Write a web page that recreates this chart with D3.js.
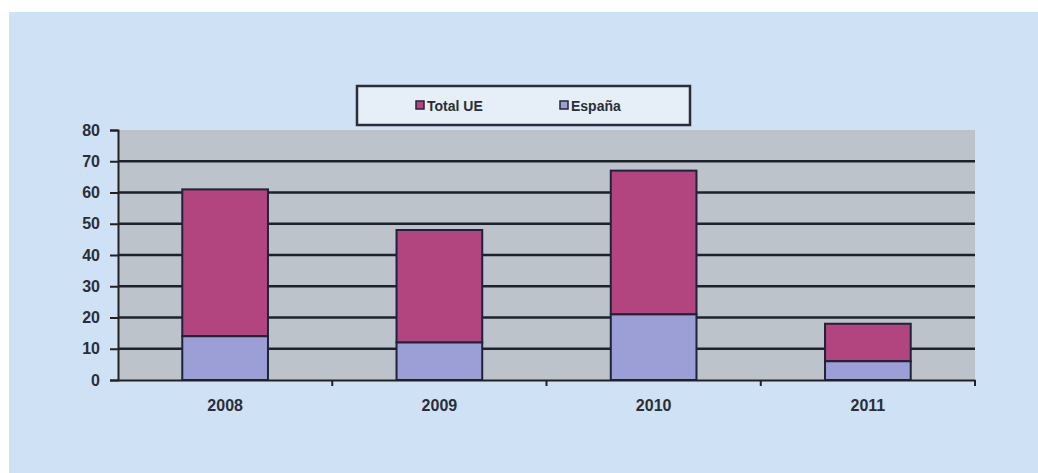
<!DOCTYPE html>
<html><head><meta charset="utf-8">
<script src="https://cdn.jsdelivr.net/npm/d3@7"></script>
<style>body{margin:0;background:#fff}svg{display:block}</style>
</head><body>
<svg id="c" width="1038" height="473"></svg>
<script>
const categories = ["2008", "2009", "2010", "2011"];
const totalUE = [61, 48, 67, 18];
const espana = [14, 12, 21, 6];
const yTicks = [0, 10, 20, 30, 40, 50, 60, 70, 80];
const seriesNames = ["Total UE", "España"];

const svg = d3.select("#c");
svg.append("rect").attr("x", 9).attr("y", 12).attr("width", 1029).attr("height", 461).attr("fill", "#cfe2f5");

const L = 118, R = 975, T = 130, B = 380;
const x = d3.scaleBand().domain(categories).range([L, R]).paddingInner(0.6).paddingOuter(0.3);
const y = d3.scaleLinear().domain([0, 80]).range([B, T]);

svg.append("rect").attr("x", L).attr("y", T).attr("width", R - L).attr("height", B - T).attr("fill", "#bcc3cb");

// gridlines
svg.append("g").selectAll("line").data(yTicks.filter(d => d > 0 && d < 80)).join("line")
  .attr("x1", L).attr("x2", R).attr("y1", d => y(d)).attr("y2", d => y(d))
  .attr("stroke", "#1e222c").attr("stroke-width", 2.5);

const colors = {tot: "#b2457f", esp: "#9c9fd6", edge: "#1f2337"};
const g = svg.append("g");
g.selectAll("rect.t").data(categories).join("rect").attr("class", "t")
  .attr("x", d => x(d)).attr("width", x.bandwidth())
  .attr("y", (d, i) => y(totalUE[i])).attr("height", (d, i) => y(espana[i]) - y(totalUE[i]))
  .attr("fill", colors.tot).attr("stroke", colors.edge).attr("stroke-width", 2);
g.selectAll("rect.e").data(categories).join("rect").attr("class", "e")
  .attr("x", d => x(d)).attr("width", x.bandwidth())
  .attr("y", (d, i) => y(espana[i])).attr("height", (d, i) => y(0) - y(espana[i]))
  .attr("fill", colors.esp).attr("stroke", colors.edge).attr("stroke-width", 2);

const font = "Liberation Sans, Arial, sans-serif";
// y axis
const ya = svg.append("g").attr("transform", `translate(${L},0)`)
  .call(d3.axisLeft(y).tickValues(yTicks).tickSize(8).tickPadding(10));
ya.select(".domain").attr("stroke", "#222").attr("stroke-width", 2);
ya.selectAll(".tick line").attr("stroke", "#222").attr("stroke-width", 2);
ya.selectAll("text").attr("font-family", font).attr("font-size", 16)
  .attr("font-weight", "bold").attr("fill", "#2a2e36");

// x axis
const xa = svg.append("g").attr("transform", `translate(0,${B})`)
  .call(d3.axisBottom(x).tickSize(0).tickPadding(20));
xa.select(".domain").attr("stroke", "#222").attr("stroke-width", 2);
xa.selectAll("text").attr("font-family", font).attr("font-size", 16)
  .attr("font-weight", "bold").attr("fill", "#2a2e36");
// category boundary ticks
const bounds = categories.slice(1).map(c => x(c) - x.step() * x.paddingInner() / 2);
bounds.push(R);
svg.append("g").selectAll("line").data(bounds).join("line")
  .attr("x1", d => d).attr("x2", d => d).attr("y1", B).attr("y2", B + 6)
  .attr("stroke", "#222").attr("stroke-width", 2);

// legend
const lg = svg.append("g");
lg.append("rect").attr("x", 357).attr("y", 86).attr("width", 333).attr("height", 39)
  .attr("fill", "#e6eef7").attr("stroke", "#2a2e36").attr("stroke-width", 2.5);
const lx = [416, 560];
const lcol = [colors.tot, colors.esp];
seriesNames.forEach((n, i) => {
  lg.append("rect").attr("x", lx[i]).attr("y", 101).attr("width", 8).attr("height", 8)
    .attr("fill", lcol[i]).attr("stroke", "#2a2236").attr("stroke-width", 1.5);
  lg.append("text").attr("x", lx[i] + 11).attr("y", 111).text(n)
    .attr("font-family", font).attr("font-size", 14)
    .attr("font-weight", "bold").attr("fill", "#2a2e36");
});
</script>
</body></html>
